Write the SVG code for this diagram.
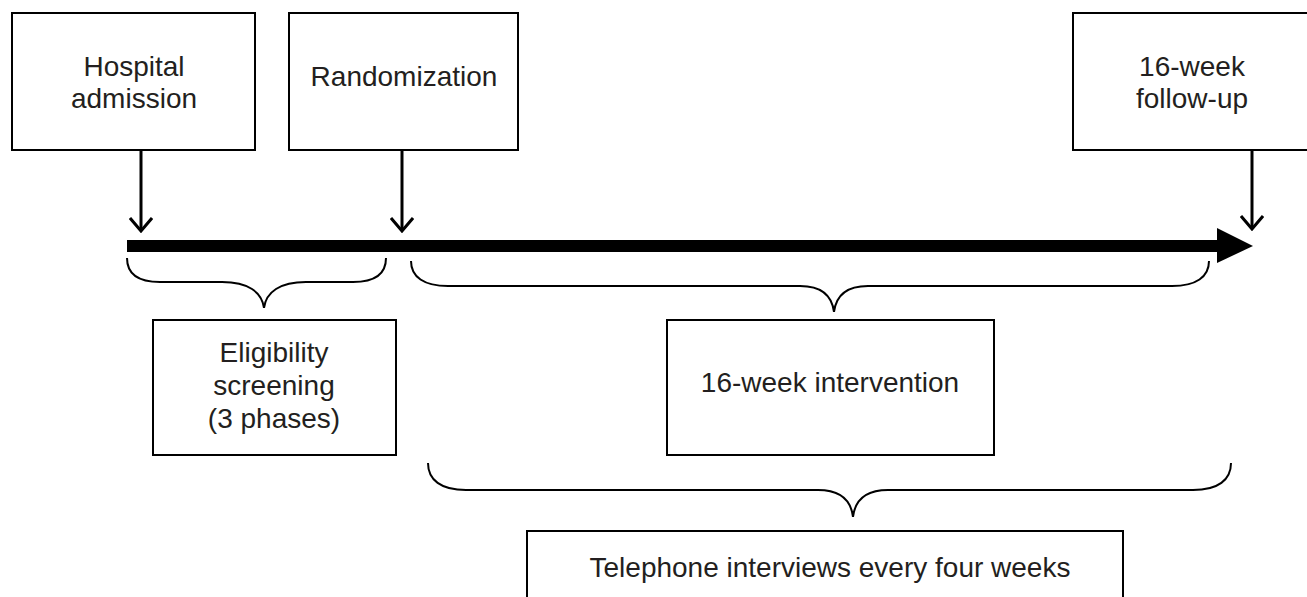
<svg xmlns="http://www.w3.org/2000/svg" width="1307" height="597" viewBox="0 0 1307 597">
<style>
.box{fill:#fff;stroke:#000;stroke-width:2}
.t{font-family:"Liberation Sans",Arial,sans-serif;font-size:28px;fill:#231f20;text-anchor:middle}
.ln{fill:none;stroke:#000;stroke-width:3}
.br{fill:none;stroke:#000;stroke-width:2}
</style>
<defs>
<marker id="open" viewBox="0 0 16 24" refX="14" refY="12" markerWidth="16" markerHeight="24" markerUnits="userSpaceOnUse" orient="auto">
<path d="M1,1 L14,12 L1,23" fill="none" stroke="#000" stroke-width="3"/>
</marker>
</defs>
<rect width="1307" height="597" fill="#fff"/>
<g id="hospital"><rect class="box" x="12" y="13" width="243" height="137"/><text class="t" x="134" y="76">Hospital</text><text class="t" x="134" y="108">admission</text></g>
<g id="randomization"><rect class="box" x="289" y="13" width="229" height="137"/><text class="t" x="404" y="86">Randomization</text></g>
<g id="followup"><rect class="box" x="1073" y="13" width="240" height="137"/><text class="t" x="1192" y="76">16-week</text><text class="t" x="1192" y="108">follow-up</text></g>
<g id="eligibility"><rect class="box" x="153" y="320" width="243" height="135"/><text class="t" x="274" y="362">Eligibility</text><text class="t" x="274" y="395">screening</text><text class="t" x="274" y="428">(3 phases)</text></g>
<g id="intervention"><rect class="box" x="667" y="320" width="327" height="135"/><text class="t" x="830" y="392">16-week intervention</text></g>
<g id="telephone"><rect class="box" x="527" y="531" width="596" height="80"/><text class="t" x="830" y="577">Telephone interviews every four weeks</text></g>
<g id="connectors">
<line class="ln" x1="141" y1="150" x2="141" y2="231" marker-end="url(#open)"/>
<line class="ln" x1="402" y1="150" x2="402" y2="231" marker-end="url(#open)"/>
<line class="ln" x1="1252" y1="150" x2="1252" y2="229" marker-end="url(#open)"/>
<rect x="127" y="240" width="1091" height="12" fill="#000"/>
<polygon points="1217,228 1253,246 1217,263" fill="#000"/>
<path class="br" d="M127,258 C127,274 138,282 160,282 L222,282 C248,282 262,292 264,308 C266,292 280,282 306,282 L353,282 C375,282 386,274 386,258"/>
<path class="br" d="M411,261 C411,277 424,286 448,286 L800,286 C822,286 832,296 834,312 C836,296 846,286 868,286 L1172,286 C1196,286 1209,277 1209,261"/>
<path class="br" d="M428,463 C428,480 441,490 466,490 L818,490 C840,490 851,500 853,517 C855,500 866,490 888,490 L1193,490 C1218,490 1231,480 1231,463"/>
</g>
</svg>
